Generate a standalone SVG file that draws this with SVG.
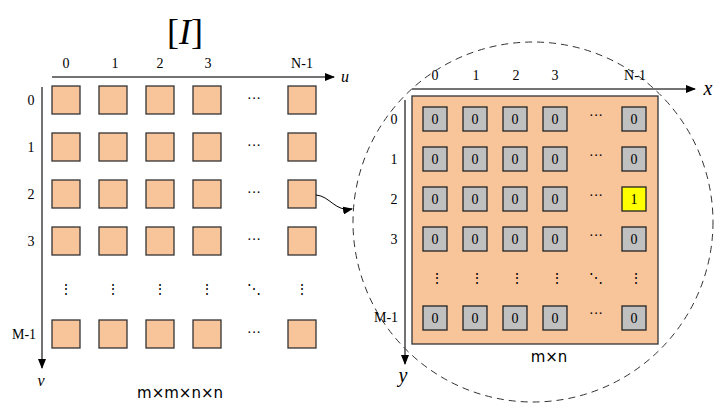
<svg xmlns="http://www.w3.org/2000/svg" width="721" height="419" viewBox="0 0 721 419">
<defs>
<style>
.t{font-family:"Liberation Serif",serif;font-size:14px;fill:#000;text-anchor:middle}
.it{font-family:"Liberation Serif",serif;font-style:italic;fill:#000;text-anchor:middle}
.big{fill:#f8c49a;stroke:#333;stroke-width:1.3}
.c{fill:#c0c0c0;stroke:#222;stroke-width:1.3}
.ax{stroke:#444;stroke-width:1.5;fill:none}
</style>
<marker id="ah" markerWidth="10" markerHeight="8" refX="9" refY="4" orient="auto" markerUnits="userSpaceOnUse"><path d="M0,0 L10,4 L0,8z" fill="#000"/></marker>
</defs>
<rect width="721" height="419" fill="#fff"/>
<text class="t" x="185" y="44" style="font-size:36px">[<tspan font-style="italic">I</tspan>]</text>
<g id="left">
<line class="ax" x1="52" y1="77" x2="334" y2="77" marker-end="url(#ah)"/>
<text class="it" x="345" y="82" font-size="16">u</text>
<line class="ax" x1="42" y1="87" x2="42" y2="368" marker-end="url(#ah)"/>
<text class="it" x="41" y="386" font-size="16">v</text>
<g class="t"><text x="66" y="68">0</text><text x="115" y="68">1</text><text x="160" y="68">2</text><text x="208" y="68">3</text><text x="302" y="68">N-1</text>
<text x="31" y="105">0</text><text x="31" y="152">1</text><text x="31" y="199">2</text><text x="31" y="246">3</text><text x="24" y="339">M-1</text>
<text x="254" y="103">···</text><text x="254" y="150">···</text><text x="254" y="197">···</text><text x="254" y="244">···</text><text x="254" y="337">···</text>
<text x="66" y="294">⋮</text><text x="113" y="294">⋮</text><text x="160" y="294">⋮</text><text x="207" y="294">⋮</text><text x="254" y="294">⋱</text><text x="302" y="294">⋮</text>
<text x="180" y="398" style="font-family:'DejaVu Sans',sans-serif;font-size:15px">m×m×n×n</text></g>
<g class="big">
<rect x="52" y="86" width="28" height="28"/><rect x="99" y="86" width="28" height="28"/><rect x="146" y="86" width="28" height="28"/><rect x="193" y="86" width="28" height="28"/><rect x="288" y="86" width="28" height="28"/>
<rect x="52" y="133" width="28" height="28"/><rect x="99" y="133" width="28" height="28"/><rect x="146" y="133" width="28" height="28"/><rect x="193" y="133" width="28" height="28"/><rect x="288" y="133" width="28" height="28"/>
<rect x="52" y="180" width="28" height="28"/><rect x="99" y="180" width="28" height="28"/><rect x="146" y="180" width="28" height="28"/><rect x="193" y="180" width="28" height="28"/><rect x="288" y="180" width="28" height="28"/>
<rect x="52" y="227" width="28" height="28"/><rect x="99" y="227" width="28" height="28"/><rect x="146" y="227" width="28" height="28"/><rect x="193" y="227" width="28" height="28"/><rect x="288" y="227" width="28" height="28"/>
<rect x="52" y="320" width="28" height="28"/><rect x="99" y="320" width="28" height="28"/><rect x="146" y="320" width="28" height="28"/><rect x="193" y="320" width="28" height="28"/><rect x="288" y="320" width="28" height="28"/>
</g>
</g>
<g id="connectors">
<path d="M316,195 C330,196 335,212 352,209" fill="none" stroke="#000" stroke-width="1" marker-end="url(#ah)"/>
</g>
<g id="zoom">
<circle cx="533" cy="222" r="180" fill="none" stroke="#333" stroke-width="1" stroke-dasharray="7,5"/>
<rect class="big" x="412" y="96" width="246" height="248"/>
<line class="ax" x1="412" y1="89" x2="695" y2="89" stroke="#000" marker-end="url(#ah)"/>
<text class="it" x="708" y="95" font-size="20">x</text>
<line class="ax" x1="405" y1="100" x2="405" y2="364" stroke="#000" marker-end="url(#ah)"/>
<text class="it" x="403" y="382" font-size="20">y</text>
<g class="t"><text x="435" y="80">0</text><text x="476" y="80">1</text><text x="516" y="80">2</text><text x="555" y="80">3</text><text x="635" y="80">N-1</text>
<text x="394" y="124">0</text><text x="394" y="164">1</text><text x="394" y="204">2</text><text x="394" y="244">3</text><text x="386" y="322">M-1</text>
<text x="596" y="120">···</text><text x="596" y="160">···</text><text x="596" y="200">···</text><text x="596" y="240">···</text><text x="596" y="318">···</text>
<text x="437" y="283">⋮</text><text x="477" y="283">⋮</text><text x="517" y="283">⋮</text><text x="557" y="283">⋮</text><text x="596" y="283">⋱</text><text x="636" y="283">⋮</text>
<text x="549" y="362" style="font-family:'DejaVu Sans',sans-serif;font-size:15px">m×n</text></g>
<g class="c">
<rect x="423" y="107" width="24" height="24"/><rect x="463" y="107" width="24" height="24"/><rect x="503" y="107" width="24" height="24"/><rect x="543" y="107" width="24" height="24"/><rect x="622" y="107" width="24" height="24"/>
<rect x="423" y="147" width="24" height="24"/><rect x="463" y="147" width="24" height="24"/><rect x="503" y="147" width="24" height="24"/><rect x="543" y="147" width="24" height="24"/><rect x="622" y="147" width="24" height="24"/>
<rect x="423" y="187" width="24" height="24"/><rect x="463" y="187" width="24" height="24"/><rect x="503" y="187" width="24" height="24"/><rect x="543" y="187" width="24" height="24"/><rect x="622" y="187" width="24" height="24" fill="#ffff00"/>
<rect x="423" y="227" width="24" height="24"/><rect x="463" y="227" width="24" height="24"/><rect x="503" y="227" width="24" height="24"/><rect x="543" y="227" width="24" height="24"/><rect x="622" y="227" width="24" height="24"/>
<rect x="423" y="306" width="24" height="24"/><rect x="463" y="306" width="24" height="24"/><rect x="503" y="306" width="24" height="24"/><rect x="543" y="306" width="24" height="24"/><rect x="622" y="306" width="24" height="24"/>
</g>
<g class="t">
<text x="435" y="124">0</text><text x="475" y="124">0</text><text x="515" y="124">0</text><text x="555" y="124">0</text><text x="634" y="124">0</text>
<text x="435" y="164">0</text><text x="475" y="164">0</text><text x="515" y="164">0</text><text x="555" y="164">0</text><text x="634" y="164">0</text>
<text x="435" y="204">0</text><text x="475" y="204">0</text><text x="515" y="204">0</text><text x="555" y="204">0</text><text x="634" y="204">1</text>
<text x="435" y="244">0</text><text x="475" y="244">0</text><text x="515" y="244">0</text><text x="555" y="244">0</text><text x="634" y="244">0</text>
<text x="435" y="323">0</text><text x="475" y="323">0</text><text x="515" y="323">0</text><text x="555" y="323">0</text><text x="634" y="323">0</text>
</g>
</g>
</svg>
